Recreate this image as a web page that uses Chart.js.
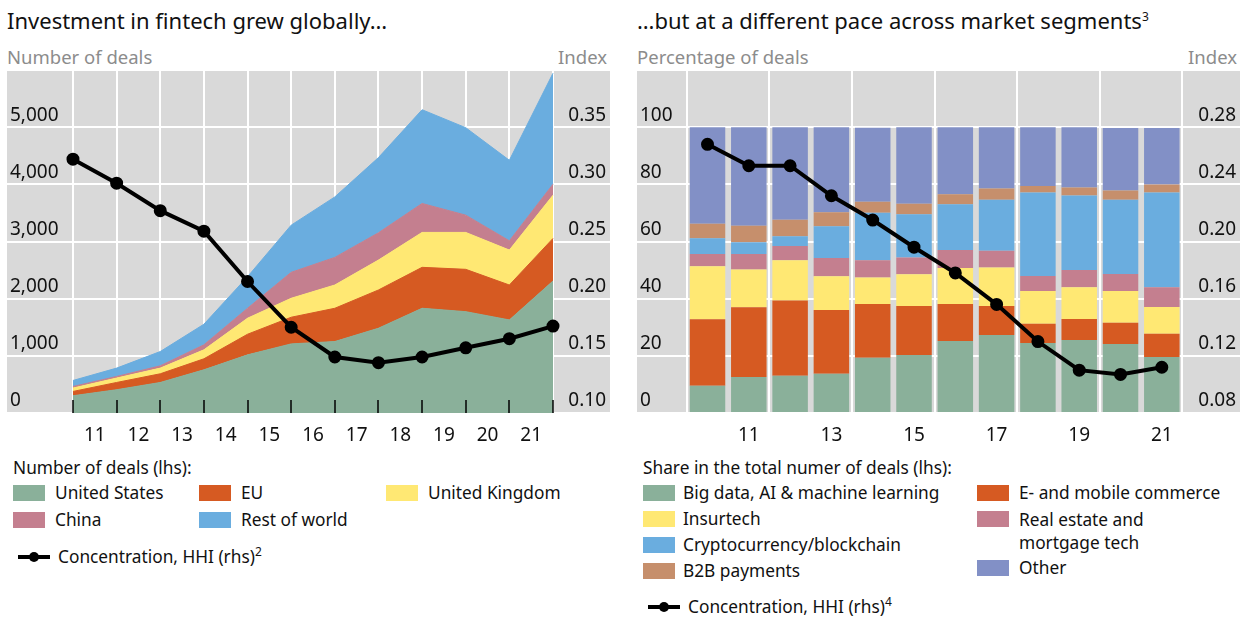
<!DOCTYPE html>
<html>
<head>
<meta charset="utf-8">
<script src="https://cdn.jsdelivr.net/npm/chart.js@4.4.1/dist/chart.umd.min.js"></script>
<style>
  body { margin: 0; width: 1241px; height: 619px; background: #fff; position: relative; overflow: hidden;
         font-family: "Noto Sans", sans-serif; color: #111; }
  .abs { position: absolute; white-space: nowrap; }
  .title { font-size: 22px; top: 5px; }
  .unit { font-size: 18.5px; color: #8c8c8c; top: 44px; }
  .leg { font-size: 17.3px; line-height: 22px; }
  .sw { position: absolute; width: 32px; height: 16px; }
  .ln { position: absolute; width: 32px; height: 4px; background: #000; }
  .ln::after { content: ""; position: absolute; left: 11px; top: -3px; width: 10px; height: 10px; border-radius: 5px; background: #000; }
  sup { font-size: 12px; line-height: 0; }
  .box { position: absolute; top: 70px; width: 603px; height: 380px; }
</style>
</head>
<body>

<div class="abs title" style="left:7px">Investment in fintech grew globally…</div>
<div class="abs unit" style="left:7px">Number of deals</div>
<div class="abs unit" style="right:634px">Index</div>
<div class="box" style="left:7px"><canvas id="left"></canvas></div>

<div class="abs title" style="left:637px">…but at a different pace across market segments<sup>3</sup></div>
<div class="abs unit" style="left:637px">Percentage of deals</div>
<div class="abs unit" style="right:4px">Index</div>
<div class="box" style="left:637px"><canvas id="right"></canvas></div>

<!-- left legend -->
<div class="abs leg" style="left:13px;top:457px">Number of deals (lhs):</div>
<div class="sw" style="left:13px;top:485px;background:#8ab09a"></div><div class="abs leg" style="left:55px;top:482px">United States</div>
<div class="sw" style="left:199px;top:485px;background:#d65a22"></div><div class="abs leg" style="left:241px;top:482px">EU</div>
<div class="sw" style="left:386px;top:485px;background:#ffe873"></div><div class="abs leg" style="left:428px;top:482px">United Kingdom</div>
<div class="sw" style="left:13px;top:512px;background:#c47f8f"></div><div class="abs leg" style="left:55px;top:509px">China</div>
<div class="sw" style="left:199px;top:512px;background:#6aaddf"></div><div class="abs leg" style="left:241px;top:509px">Rest of world</div>
<div class="ln" style="left:18px;top:555px"></div><div class="abs leg" style="left:58px;top:546px">Concentration, HHI (rhs)<sup>2</sup></div>

<!-- right legend -->
<div class="abs leg" style="left:643px;top:457px">Share in the total numer of deals (lhs):</div>
<div class="sw" style="left:643px;top:485px;background:#8ab09a"></div><div class="abs leg" style="left:683px;top:482px">Big data, AI &amp; machine learning</div>
<div class="sw" style="left:643px;top:511px;background:#ffe873"></div><div class="abs leg" style="left:683px;top:508px">Insurtech</div>
<div class="sw" style="left:643px;top:537px;background:#6aaddf"></div><div class="abs leg" style="left:683px;top:534px">Cryptocurrency/blockchain</div>
<div class="sw" style="left:643px;top:563px;background:#c68f6c"></div><div class="abs leg" style="left:683px;top:560px">B2B payments</div>
<div class="sw" style="left:977px;top:485px;background:#d65a22"></div><div class="abs leg" style="left:1019px;top:482px">E- and mobile commerce</div>
<div class="sw" style="left:977px;top:511px;background:#c47f8f"></div><div class="abs leg" style="left:1019px;top:508px;line-height:23px">Real estate and<br>mortgage tech</div>
<div class="sw" style="left:977px;top:560px;background:#8290c6"></div><div class="abs leg" style="left:1019px;top:557px">Other</div>
<div class="ln" style="left:648px;top:605px"></div><div class="abs leg" style="left:688px;top:596px">Concentration, HHI (rhs)<sup>4</sup></div>

<script>
// years 2010-2021, shown as two digits
const years = [10, 11, 12, 13, 14, 15, 16, 17, 18, 19, 20, 21];

// left panel: number of deals by region (stacked) and HHI
const dealsUS = [302, 407, 534, 756, 1017, 1209, 1250, 1483, 1832, 1773, 1628, 2309];
const dealsEU = [75, 127, 152, 192, 361, 466, 582, 669, 716, 740, 611, 745];
const dealsUK = [59, 77, 99, 157, 280, 332, 407, 523, 611, 646, 611, 756];
const dealsChina = [28, 28, 40, 87, 174, 454, 483, 477, 506, 302, 162, 192];
const dealsRest = [105, 146, 250, 361, 552, 825, 1058, 1316, 1640, 1530, 1409, 1942];
const hhiRegions = [0.322, 0.301, 0.277, 0.259, 0.215, 0.175, 0.149, 0.144, 0.149, 0.157, 0.165, 0.176];
const dealTicks = [0, 1000, 2000, 3000, 4000, 5000, 6000];
const regionIndexTicks = [0.10, 0.15, 0.20, 0.25, 0.30, 0.35, 0.40];

// right panel: share of deals by segment (per cent) and HHI
const shareBigData = [9.5, 12.6, 13.0, 13.7, 19.3, 20.3, 25.2, 27.3, 24.5, 25.5, 24.1, 19.6];
const shareEcommerce = [23.3, 24.4, 26.4, 22.3, 18.8, 17.1, 12.9, 10.1, 6.7, 7.4, 7.5, 8.1];
const shareInsurtech = [18.5, 13.2, 14.0, 11.8, 9.3, 11.1, 12.6, 13.5, 11.5, 11.1, 11.1, 9.4];
const shareRealEstate = [4.3, 5.4, 5.0, 6.4, 6.0, 5.9, 6.3, 5.9, 5.2, 6.0, 5.9, 6.9];
const shareCrypto = [5.5, 4.1, 3.4, 11.1, 16.7, 15.1, 16.0, 17.8, 29.2, 26.1, 26.0, 33.1];
const shareB2B = [5.1, 5.8, 5.8, 4.9, 3.8, 3.7, 3.5, 3.9, 2.3, 2.8, 3.2, 2.8];
const shareOther = [33.8, 34.5, 32.4, 29.8, 25.9, 26.8, 23.5, 21.5, 20.6, 21.1, 21.9, 19.8];
const hhiSegments = [0.268, 0.253, 0.253, 0.232, 0.215, 0.196, 0.178, 0.156, 0.130, 0.110, 0.107, 0.112];
const shareTicks = [0, 20, 40, 60, 80, 100, 120];
const segmentIndexTicks = [0.08, 0.12, 0.16, 0.20, 0.24, 0.28, 0.32];

const tickFont = { family: 'Noto Sans', size: 19 };
const pts = arr => arr.map((v, i) => ({ x: years[i], y: v }));

// no automatic padding around the plot
const noPad = s => { s.paddingTop = 0; s.paddingBottom = 0; s.paddingLeft = 0; s.paddingRight = 0; };

// grey panel behind the plot
const panelBg = {
  id: 'panelBg',
  beforeDraw(chart) {
    const { ctx, chartArea: a } = chart;
    ctx.save();
    ctx.fillStyle = '#d9d9d9';
    ctx.fillRect(a.left, a.top, a.width, a.height);
    ctx.restore();
  }
};

// small black ticks pointing up from the bottom edge (left panel)
const innerTicks = {
  id: 'innerTicks',
  afterDatasetsDraw(chart) {
    const { ctx, chartArea: a } = chart;
    const xs = chart.scales.x;
    ctx.save();
    ctx.strokeStyle = '#000';
    ctx.lineWidth = 1.5;
    years.forEach(y => {
      const px = Math.round(xs.getPixelForValue(y));
      ctx.beginPath();
      ctx.moveTo(px, a.bottom);
      ctx.lineTo(px, a.bottom - 13);
      ctx.stroke();
    });
    ctx.restore();
  }
};

function yAxis(pos, list, fmt, grid) {
  return {
    position: pos,
    min: list[0],
    max: list[list.length - 1],
    afterBuildTicks: s => { s.ticks = list.map(v => ({ value: v })); },
    afterFit: s => { s.width = 0; noPad(s); },
    border: { display: false },
    grid: { display: grid, color: '#fff', lineWidth: 2, drawTicks: false },
    ticks: {
      mirror: true, padding: pos === 'left' ? 3 : -4, labelOffset: -12, color: '#111', font: tickFont,
      callback: v => (v === list[list.length - 1] ? '' : fmt(v))
    }
  };
}

function area(label, data, color, fill) {
  return {
    label, data: pts(data), backgroundColor: color, borderColor: color, borderWidth: 1,
    pointRadius: 0, fill, yAxisID: 'y', tension: 0
  };
}

function hhiLine(data) {
  return {
    type: 'line', label: 'Concentration, HHI (rhs)', data: pts(data), yAxisID: 'y1',
    borderColor: '#000', backgroundColor: '#000', borderWidth: 4,
    pointRadius: 4.5, pointBackgroundColor: '#000', fill: false
  };
}

// left: stacked areas
new Chart(document.getElementById('left'), {
  type: 'line',
  data: {
    datasets: [
      hhiLine(hhiRegions),
      area('United States', dealsUS, '#8ab09a', 'origin'),
      area('EU', dealsEU, '#d65a22', '-1'),
      area('United Kingdom', dealsUK, '#ffe873', '-1'),
      area('China', dealsChina, '#c47f8f', '-1'),
      area('Rest of world', dealsRest, '#6aaddf', '-1')
    ]
  },
  options: {
    responsive: true, maintainAspectRatio: false, animation: false,
    layout: { padding: 0, autoPadding: false },
    plugins: { legend: { display: false }, tooltip: { enabled: false } },
    scales: {
      x: {
        type: 'linear', min: 8.488, max: 22.306, offset: false,
        afterBuildTicks: s => {
          const t = [];
          years.forEach((y, i) => { t.push({ value: y }); if (i < years.length - 1) t.push({ value: y + 0.5 }); });
          s.ticks = t;
        },
        afterFit: s => { s.height = 37; noPad(s); },
        border: { display: false },
        grid: { offset: false, color: c => (c.tick && Number.isInteger(c.tick.value) ? '#fff' : 'rgba(0,0,0,0)'), lineWidth: 2, drawTicks: false },
        ticks: {
          autoSkip: false, maxRotation: 0, padding: 11, color: '#111', font: tickFont,
          callback: v => (Number.isInteger(v) ? '' : String(v + 0.5))
        }
      },
      y: Object.assign(yAxis('left', dealTicks, v => v.toLocaleString('en-US'), true), { stacked: true }),
      y1: yAxis('right', regionIndexTicks, v => v.toFixed(2), false)
    }
  },
  plugins: [panelBg, innerTicks]
});

function bar(label, data, color) {
  return { type: 'bar', label, data: pts(data), backgroundColor: color, borderWidth: 0, yAxisID: 'y' };
}

// right: stacked bars (x ticks sit every half year, so the bar width ratio is doubled)
new Chart(document.getElementById('right'), {
  type: 'bar',
  data: {
    datasets: [
      hhiLine(hhiSegments),
      bar('Big data, AI & machine learning', shareBigData, '#8ab09a'),
      bar('E- and mobile commerce', shareEcommerce, '#d65a22'),
      bar('Insurtech', shareInsurtech, '#ffe873'),
      bar('Real estate and mortgage tech', shareRealEstate, '#c47f8f'),
      bar('Cryptocurrency/blockchain', shareCrypto, '#6aaddf'),
      bar('B2B payments', shareB2B, '#c68f6c'),
      bar('Other', shareOther, '#8290c6')
    ]
  },
  options: {
    responsive: true, maintainAspectRatio: false, animation: false,
    layout: { padding: 0, autoPadding: false },
    categoryPercentage: 1, barPercentage: 1.72,
    plugins: { legend: { display: false }, tooltip: { enabled: false } },
    scales: {
      x: {
        type: 'linear', min: 8.293, max: 22.893, stacked: true, offset: false,
        afterBuildTicks: s => {
          const t = [{ value: years[0] - 0.5 }];
          years.forEach(y => { t.push({ value: y }); t.push({ value: y + 0.5 }); });
          s.ticks = t;
        },
        afterFit: s => { s.height = 37; noPad(s); },
        border: { display: false },
        grid: {
          offset: false,
          color: c => (c.tick && (c.tick.value - (years[0] - 0.5)) % 2 === 0 ? '#fff' : 'rgba(0,0,0,0)'),
          lineWidth: 2, drawTicks: false
        },
        ticks: {
          autoSkip: false, maxRotation: 0, padding: 11, color: '#111', font: tickFont,
          callback: v => (Number.isInteger(v) && v % 2 === 1 ? String(v) : '')
        }
      },
      y: Object.assign(yAxis('left', shareTicks, v => String(v), true), { stacked: true }),
      y1: yAxis('right', segmentIndexTicks, v => v.toFixed(2), false)
    }
  },
  plugins: [panelBg]
});
</script>
</body>
</html>
